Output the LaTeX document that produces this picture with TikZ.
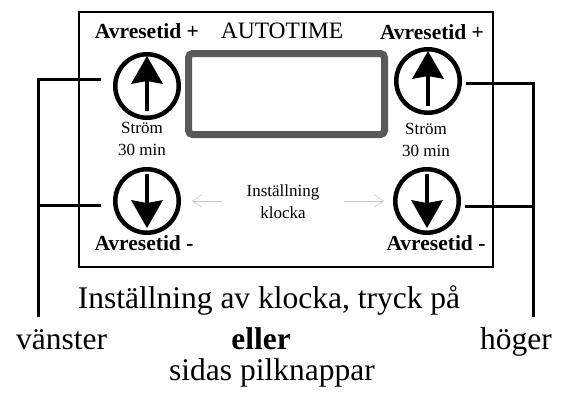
\documentclass[tikz,border=0pt]{standalone}
\usepackage{fontspec}
\setmainfont{Liberation Serif}
\usetikzlibrary{arrows.meta}

\begin{document}
\begin{tikzpicture}[
    x=1pt, y=-1pt,
    knapp/.style  = {draw, circle, line width=4.5pt, minimum size=63.5pt, inner sep=0pt},
    pil/.style    = {line width=4.5pt, -{Stealth[length=28pt, width=32pt, inset=3pt, line width=0pt]}},
    leder/.style  = {line width=3pt},
    grapil/.style = {gray!45, line width=0.6pt, -{Straight Barb[length=9pt, width=12pt, line width=0.6pt]}},
    rubrik/.style = {font=\fontsize{21.5}{24}\selectfont\bfseries, anchor=base, inner sep=0pt},
    liten/.style  = {font=\fontsize{17}{22}\selectfont, align=center, anchor=base, inner sep=0pt},
    stor/.style   = {font=\fontsize{31.5}{37}\selectfont, anchor=base, inner sep=0pt},
  ]

	\useasboundingbox (0,0) rectangle (568,394);

	% Ram och display
	\draw[line width=2pt] (79,12) rectangle (493,267);
	\draw[line width=7pt, gray!70!black, rounded corners=4pt] (188.5,53.5) rectangle (384.5,134.5);

	% Knappar
	\node[knapp] (upL)   at (147,86)  {};
	\node[knapp] (downL) at (147,201) {};
	\node[knapp] (upR)   at (428,81)  {};
	\node[knapp] (downR) at (427,201) {};

	\foreach \k in {upL, upR}
		\draw[pil] ([yshift=-25pt]\k.center) -- ([yshift=30pt]\k.center);
	\foreach \k in {downL, downR}
		\draw[pil] ([yshift=27pt]\k.center) -- ([yshift=-27pt]\k.center);

	% Texter i ramen
	\node[rubrik] (plusL)  at (147,38) {Avresetid +};
	\node[rubrik, font=\fontsize{23.5}{26}\selectfont] (auto) at (282,38) {AUTOTIME};
	\node[rubrik] (plusR)  at (432,39) {Avresetid +};
	\node[liten]  (stromL) at (142,155) {Ström\\30 min};
	\node[liten]  (stromR) at (426,156) {Ström\\30 min};
	\node[liten]  (inst)   at (283,218) {Inställning\\klocka};
	\node[rubrik] (minusL) at (144,250) {Avresetid -};
	\node[rubrik] (minusR) at (436,250) {Avresetid -};

	% Grå pilar
	\draw[grapil, shorten <=24pt, shorten >=11pt] (inst.west |- downL.east) -- (downL.east);
	\draw[grapil, shorten <=24pt, shorten >=9pt]  (inst.east |- downR.west) -- (downR.west);

	% Ledare
	\coordinate (endL) at (38,317);
	\coordinate (endR) at (533,317);
	\draw[leder] ([xshift=-12pt, yshift=7pt]upL.west) -| (endL);
	\draw[leder] ([xshift=-12pt, yshift=-4pt]downL.west) -- (endL |- 0,205);
	\draw[leder] ([xshift=4pt, yshift=-2pt]upR.east) -| (endR);
	\draw[leder] ([xshift=4pt, yshift=-5pt]downR.east) -- (endR |- 0,206);

	% Text under
	\node[stor] (rad1)   at (269,308) {Inställning av klocka, tryck på};
	\node[stor, anchor=base west] (vanster) at (16,349) {vänster};
	\node[stor, font=\fontsize{31.5}{37}\selectfont\bfseries] (eller) at (261,349) {eller};
	\node[stor, anchor=base east] (hoger) at (552,349) {höger};
	\node[stor] (rad3)   at (272,380) {sidas pilknappar};

\end{tikzpicture}
\end{document}
